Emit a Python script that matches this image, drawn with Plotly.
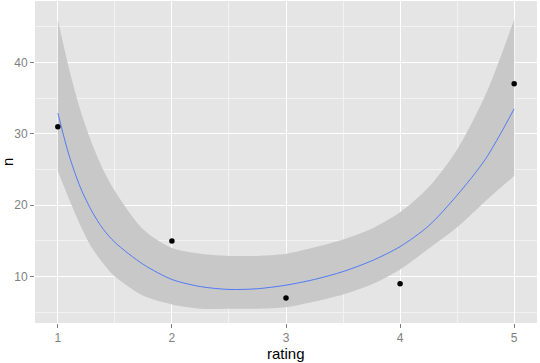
import plotly.graph_objects as go

# observed points
rating = [1, 2, 3, 4, 5]
n = [31, 15, 7, 9, 37]

# smoother with confidence band
fit_x = [1.0, 1.1, 1.2, 1.3, 1.4, 1.5, 1.75, 2.0, 2.25, 2.5, 2.75, 3.0, 3.25, 3.5, 3.75, 4.0, 4.25, 4.5, 4.75, 5.0]
fit_y = [32.9, 26.9, 22.4, 19.1, 16.6, 14.8, 11.7, 9.6, 8.6, 8.2, 8.3, 8.8, 9.6, 10.7, 12.2, 14.2, 17.1, 21.4, 26.5, 33.5]
fit_lo = [24.8, 20.8, 17.1, 14.0, 11.8, 10.0, 7.3, 6.1, 5.5, 5.5, 5.5, 5.7, 6.5, 7.5, 8.9, 11.0, 13.9, 16.9, 20.6, 24.1]
fit_hi = [46.0, 39.0, 33.2, 28.6, 24.9, 22.0, 16.6, 14.0, 13.2, 12.9, 12.9, 13.2, 14.1, 15.2, 16.7, 19.0, 22.5, 27.8, 35.5, 46.0]

x_ticks = [1, 2, 3, 4, 5]
y_ticks = [10, 20, 30, 40]

FONT = "Liberation Sans, Arial, sans-serif"

fig = go.Figure()
fig.add_trace(go.Scatter(x=fit_x, y=fit_lo, mode="lines",
                         line=dict(width=0, shape="spline", smoothing=0.8),
                         hoverinfo="skip", showlegend=False))
fig.add_trace(go.Scatter(x=fit_x, y=fit_hi, mode="lines",
                         line=dict(width=0, shape="spline", smoothing=0.8),
                         fill="tonexty", fillcolor="#C8C8C8", hoverinfo="skip", showlegend=False))
fig.add_trace(go.Scatter(x=fit_x, y=fit_y, mode="lines",
                         line=dict(color="#3366FF", width=0.8, shape="spline", smoothing=0.8),
                         showlegend=False))
fig.add_trace(go.Scatter(x=rating, y=n, mode="markers",
                         marker=dict(color="black", size=5.5), showlegend=False))

axis_common = dict(
    showgrid=True, gridcolor="white", gridwidth=1.2, zeroline=False,
    ticks="outside", ticklen=4, tickcolor="#7F7F7F", tickwidth=1,
    tickfont=dict(family=FONT, size=12, color="#7F7F7F"),
    showline=False, automargin=False,
)
fig.update_layout(
    width=540, height=363,
    margin=dict(l=35, r=3, t=1, b=40),
    paper_bgcolor="white", plot_bgcolor="#E5E5E5",
    xaxis=dict(range=[0.8, 5.2], tickvals=x_ticks, ticktext=[str(v) for v in x_ticks],
               minor=dict(dtick=0.5, tick0=1, showgrid=True, gridcolor="#F2F2F2", gridwidth=0.8, ticks=""),
               **axis_common),
    yaxis=dict(range=[3.5, 48.6], tickvals=y_ticks, ticktext=[str(v) for v in y_ticks],
               minor=dict(dtick=5, tick0=0, showgrid=True, gridcolor="#F2F2F2", gridwidth=0.8, ticks=""),
               **axis_common),
    annotations=[
        dict(text="rating", xref="paper", yref="paper", x=0.5, y=0, yshift=-30,
             xanchor="center", yanchor="middle", showarrow=False,
             font=dict(family=FONT, size=15, color="black")),
        dict(text="n", xref="paper", yref="paper", x=0, y=0.5, xshift=-28,
             xanchor="center", yanchor="middle", textangle=-90, showarrow=False,
             font=dict(family=FONT, size=15, color="black")),
    ],
)
fig.write_html("out.html", config={"displayModeBar": False},
               post_script="document.body.style.margin='0';document.body.style.overflow='hidden';")
